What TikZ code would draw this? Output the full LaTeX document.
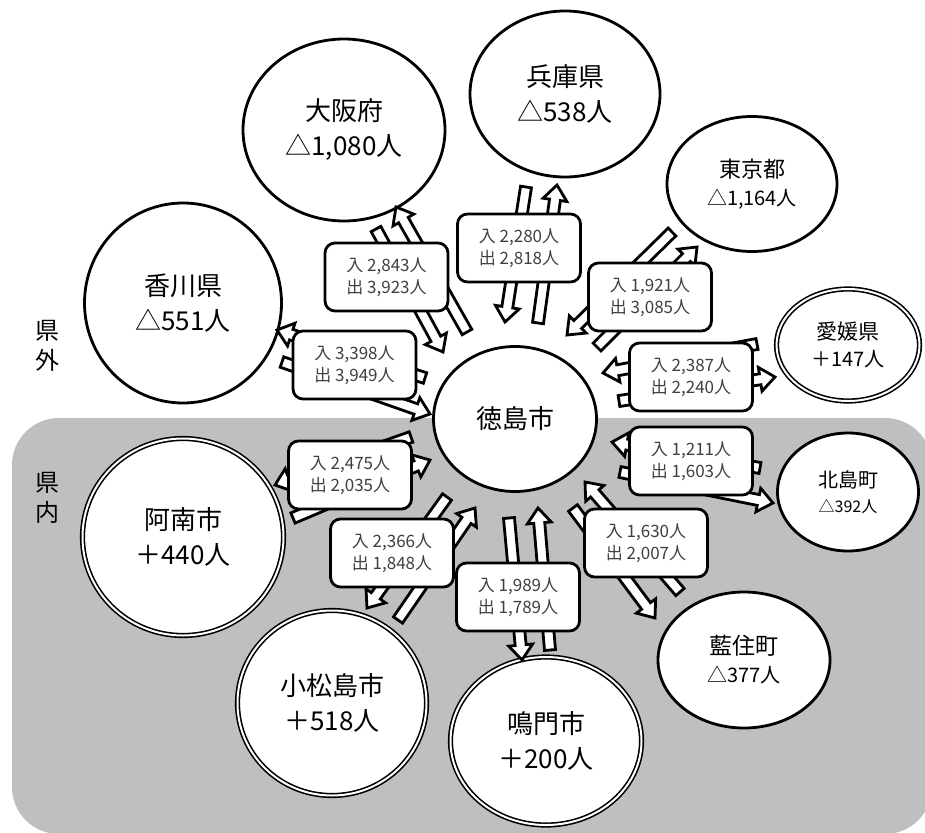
\documentclass[tikz,border=0pt]{standalone}
\usepackage{fontspec}
\setmainfont{Noto Sans CJK JP}
\usetikzlibrary{shapes.geometric,calc}
\definecolor{greybg}{RGB}{191,191,191}
\definecolor{boxtxt}{RGB}{64,64,64}
\newcommand\blkarrow[2]{%
  \draw[blockarrow] let \p1=(#1), \p2=(#2), \n1={atan2(\y2-\y1,\x2-\x1)} in
    ($(#1)+(\n1+90:5.5pt)$) -- ($(#2)+(\n1+180:15pt)+(\n1+90:5.5pt)$)
    -- ($(#2)+(\n1+180:15pt)+(\n1+90:12pt)$) -- (#2)
    -- ($(#2)+(\n1+180:15pt)+(\n1-90:12pt)$) -- ($(#2)+(\n1+180:15pt)+(\n1-90:5.5pt)$)
    -- ($(#1)+(\n1-90:5.5pt)$) -- cycle;}
\begin{document}
\begin{tikzpicture}[x=1pt,y=-1pt,
  blockarrow/.style={draw=black,fill=white,line width=2.8pt,line join=miter},
  circ/.style={ellipse,draw,line width=2.8pt,fill=white,inner sep=0pt,align=center},
  dcirc/.style={ellipse,draw,line width=1.6pt,double=white,double distance=2pt,fill=white,inner sep=0pt,align=center},
  big/.style={font=\fontsize{26}{35}\selectfont},
  databox/.style={rectangle,rounded corners=10pt,draw,line width=2.8pt,fill=white,
    minimum width=123pt,minimum height=68pt,align=center,text=boxtxt,
    font=\fontsize{17}{22}\selectfont},
  side/.style={font=\fontsize{24}{30}\selectfont,align=center}]
\useasboundingbox (0,0) rectangle (925,832);
\fill[white] (0,0) rectangle (925,832);
\fill[greybg,rounded corners=47pt] (12,418) rectangle (932,834);
\node[side] (outside) at (47,346) {県\\外};
\node[side] (inside) at (47,498) {県\\内};
% circles
\node[circ,big,minimum width=202pt,minimum height=182pt] (osaka) at (344,130) {大阪府\\△1,080人};
\node[circ,big,minimum width=190pt,minimum height=166pt] (hyogo) at (565,94) {兵庫県\\△538人};
\node[circ,minimum width=170pt,minimum height=135pt,font=\fontsize{22}{28}\selectfont] (tokyo) at (752,184) {東京都\\{\fontsize{20}{28}\selectfont △1,164人}};
\node[circ,big,minimum width=197pt,minimum height=200pt] (kagawa) at (183,303) {香川県\\△551人};
\node[dcirc,minimum width=143pt,minimum height=112pt,font=\fontsize{21}{27}\selectfont] (ehime) at (848,345) {愛媛県\\{\fontsize{20}{27}\selectfont ＋147人}};
\node[circ,big,minimum width=163pt,minimum height=145pt] (tokushima) at (515,419) {徳島市};
\node[dcirc,big,minimum width=201pt,minimum height=197pt] (anan) at (183,537) {阿南市\\＋440人};
\node[dcirc,big,minimum width=189pt,minimum height=185pt] (komatsu) at (332,703) {小松島市\\＋518人};
\node[dcirc,big,minimum width=191pt,minimum height=168pt] (naruto) at (546,741) {鳴門市\\＋200人};
\node[circ,minimum width=172pt,minimum height=136pt,font=\fontsize{23}{28}\selectfont] (aizumi) at (744,660) {藍住町\\{\fontsize{20}{28}\selectfont △377人}};
\node[circ,minimum width=141pt,minimum height=118pt,font=\fontsize{20}{25}\selectfont] (kitajima) at (848,492) {北島町\\{\fontsize{16}{25}\selectfont △392人}};
% arrow end points
\coordinate (a1t) at (376,229); \coordinate (a1h) at (443,352);
\coordinate (a2t) at (467,332); \coordinate (a2h) at (396,207);
\coordinate (b1t) at (526,187); \coordinate (b1h) at (505,322);
\coordinate (b2t) at (538,323); \coordinate (b2h) at (557,185);
\coordinate (c1t) at (672,232); \coordinate (c1h) at (567,335);
\coordinate (c2t) at (597,347); \coordinate (c2h) at (697,247);
\coordinate (d1t) at (425,378); \coordinate (d1h) at (277,330);
\coordinate (d2t) at (282,362); \coordinate (d2h) at (430,414);
\coordinate (e1t) at (757,344); \coordinate (e1h) at (603,373);
\coordinate (e2t) at (619,401); \coordinate (e2h) at (775,377);
\coordinate (f1t) at (411,437); \coordinate (f1h) at (275,485);
\coordinate (f2t) at (293,518); \coordinate (f2h) at (430,460);
\coordinate (g1t) at (398,620); \coordinate (g1h) at (475,508);
\coordinate (g2t) at (447,497); \coordinate (g2h) at (367,608);
\coordinate (h1t) at (509,518); \coordinate (h1h) at (522,660);
\coordinate (h2t) at (550,650); \coordinate (h2h) at (538,508);
\coordinate (i1t) at (760,468); \coordinate (i1h) at (612,442);
\coordinate (i2t) at (620,472); \coordinate (i2h) at (773,503);
\coordinate (j1t) at (680,592); \coordinate (j1h) at (585,482);
\coordinate (j2t) at (573,508); \coordinate (j2h) at (655,618);
\foreach \q in {a,b,c,d,e,f,g,h,i,j}{\blkarrow{\q1t}{\q1h}\blkarrow{\q2t}{\q2h}}
% boxes
\node[databox] (boxA) at (386.5,277) {入 2,843人\\出 3,923人};
\node[databox] (boxB) at (519,248) {入 2,280人\\出 2,818人};
\node[databox] (boxC) at (650,297) {入 1,921人\\出 3,085人};
\node[databox] (boxD) at (354.5,365) {入 3,398人\\出 3,949人};
\node[databox] (boxE) at (691,377) {入 2,387人\\出 2,240人};
\node[databox] (boxF) at (350,475) {入 2,475人\\出 2,035人};
\node[databox] (boxG) at (392,553) {入 2,366人\\出 1,848人};
\node[databox] (boxH) at (518,597) {入 1,989人\\出 1,789人};
\node[databox] (boxI) at (691,461) {入 1,211人\\出 1,603人};
\node[databox] (boxJ) at (646,543) {入 1,630人\\出 2,007人};
\end{tikzpicture}
\end{document}
